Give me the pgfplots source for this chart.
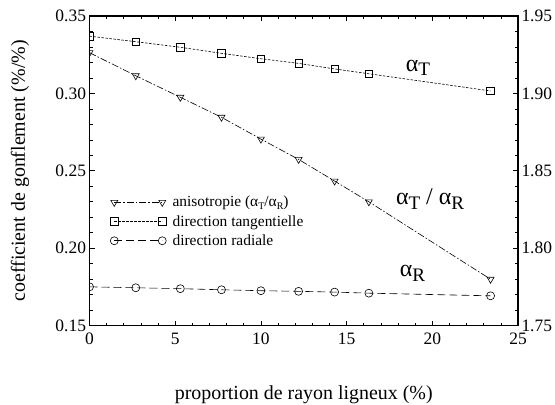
\documentclass[border=0pt]{standalone}
\usepackage{fontspec}
\setmainfont{Liberation Serif}
\usepackage{graphicx}
\usepackage{pgfplots}
\pgfplotsset{compat=1.18}

\newcommand\sub[1]{\raisebox{-0.45ex}{\scalebox{0.8}{#1}}}
\newcommand\lsub[1]{\raisebox{-0.4ex}{\scalebox{0.65}{#1}}}

\pgfplotstableread{
x     t       r       a
0     0.3370  0.1751  1.9263
2.7   0.3334  0.1745  1.9114
5.3   0.3298  0.1739  1.8975
7.7   0.3259  0.1732  1.8846
10.0  0.3224  0.1726  1.8705
12.2  0.3194  0.1722  1.8574
14.3  0.3158  0.1717  1.8434
16.3  0.3127  0.1710  1.8300
23.4  0.3016  0.1693  1.7800
}\data

\begin{document}
\begin{tikzpicture}
\useasboundingbox (0,0) rectangle (555bp,405bp);
\pgfplotsset{
  every axis/.append style={
    scale only axis, width=428.5bp, height=309.7bp,
    at={(89.5bp,79.3bp)}, anchor=south west,
    xmin=0, xmax=25,
    axis line style={line width=1.1bp},
    tick style={line width=0.7bp, black},
    major tick length=5bp, minor tick length=3bp,
    tick align=inside,
    /pgf/number format/assume math mode=true,
    tick label style={font=\fontsize{17.5}{19}\selectfont},
  },
  tri/.style={black, line width=0.6bp, dash pattern=on 7bp off 2bp on 1.5bp off 2bp,
    mark=triangle, mark size=4bp, mark options={solid, rotate=180, line width=0.6bp}},
  sq/.style={black, line width=0.6bp, dash pattern=on 2.5bp off 1.5bp,
    mark=square, mark size=3.8bp, mark options={solid, line width=0.6bp}},
  circ/.style={black, line width=0.6bp, dash pattern=on 8bp off 4bp,
    mark=o, mark size=4bp, mark options={solid, line width=0.6bp}},
}
\begin{axis}[
  ymin=0.15, ymax=0.35,
  xtick={0,5,10,15,20,25}, minor x tick num=4,
  ytick={0.15,0.2,0.25,0.3,0.35}, minor y tick num=4,
  ytick pos=left, xtick pos=both, xticklabel pos=bottom,
  xticklabel style={yshift=-4bp},
  yticklabel style={/pgf/number format/fixed, /pgf/number format/fixed zerofill, /pgf/number format/precision=2},
  xlabel={proportion de rayon ligneux (\%)},
  ylabel={coefficient de gonflement (\%/\%)},
  label style={font=\fontsize{20}{22}\selectfont},
  xlabel style={at={(axis description cs:0.5,-0.222)}, anchor=center},
  ylabel style={at={(axis description cs:-0.162,0.5)}, anchor=center},
  legend style={at={(rel axis cs:0.048,0.425)}, anchor=north west, draw=none, fill=none,
    font=\fontsize{15.5}{17}\selectfont, inner sep=0pt, row sep=3bp},
  legend cell align=left,
  legend image code/.code={\draw[mark repeat=1,mark phase=1,#1] plot coordinates {(0bp,0bp) (48bp,0bp)}; \path (56bp,0bp);},
  clip marker paths=true,
]
\addlegendimage{tri}
\addlegendentry{anisotropie (α\lsub{T}/α\lsub{R})}
\addplot[sq] table[x=x,y=t] {\data};
\addlegendentry{direction tangentielle}
\addplot[circ] table[x=x,y=r] {\data};
\addlegendentry{direction radiale}
\node[font=\fontsize{24}{26}\selectfont] at (axis cs:19.17,0.3165) {α\sub{T}};
\node[font=\fontsize{24}{26}\selectfont] at (axis cs:19.87,0.2315) {α\sub{T} / α\sub{R}};
\node[font=\fontsize{24}{26}\selectfont] at (axis cs:18.85,0.184) {α\sub{R}};
\end{axis}
\begin{axis}[
  ymin=1.75, ymax=1.95,
  axis x line=none, axis y line*=right,
  ytick={1.75,1.8,1.85,1.9,1.95}, minor y tick num=4,
  yticklabel style={/pgf/number format/fixed, /pgf/number format/fixed zerofill, /pgf/number format/precision=2},
  clip marker paths=true,
]
\addplot[tri] table[x=x,y=a] {\data};
\end{axis}
\end{tikzpicture}
\end{document}
